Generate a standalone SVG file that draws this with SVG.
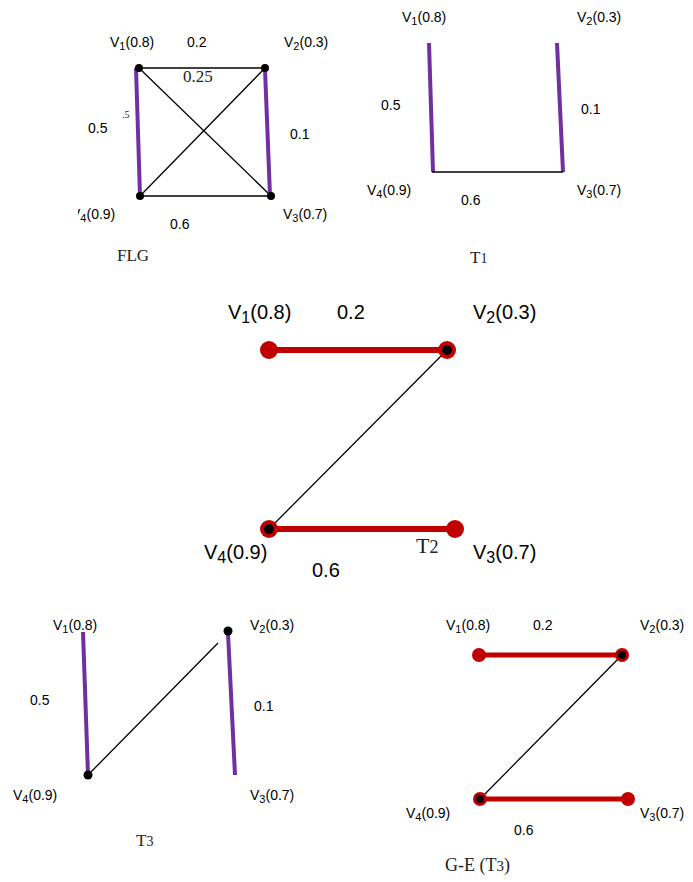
<svg xmlns="http://www.w3.org/2000/svg" width="693" height="882" viewBox="0 0 693 882">
<style>
.s{font-family:"Liberation Sans",Arial,sans-serif;font-size:14px;fill:#000}
.b{font-size:20px}
.r{font-family:"Liberation Serif","Times New Roman",serif;fill:#222}
.p{stroke:#7030a0;stroke-width:4;fill:none}
.k{stroke:#000;stroke-width:1.3;fill:none}
.red{stroke:#c00000;fill:none}
.dot{fill:#000}
.rd{fill:#c00000}
</style>
<defs>
<clipPath id="cv4"><rect x="78" y="200" width="60" height="30"/></clipPath>
</defs>
<rect width="693" height="882" fill="#fff"/>

<g id="connectors">
  <!-- FLG -->
  <line class="k" x1="139" y1="68" x2="265" y2="68"/>
  <line class="k" x1="140" y1="196" x2="271" y2="196"/>
  <line class="k" x1="139" y1="68" x2="271" y2="196"/>
  <line class="k" x1="265" y1="68" x2="140" y2="196"/>
  <line class="p" x1="136" y1="68" x2="140" y2="196"/>
  <line class="p" x1="265" y1="69" x2="270" y2="196"/>
  <!-- T1 -->
  <line class="p" x1="429" y1="43" x2="433" y2="172"/>
  <line class="p" x1="557" y1="43" x2="563" y2="172"/>
  <line class="k" x1="432" y1="172" x2="563" y2="172"/>
  <!-- T2 -->
  <line class="red" stroke-width="6" x1="269" y1="350" x2="447" y2="350"/>
  <line class="red" stroke-width="6" x1="269" y1="529" x2="455" y2="529"/>
  <line class="k" stroke-width="1.6" x1="447" y1="350" x2="269" y2="529"/>
  <!-- T3 -->
  <line class="p" x1="83" y1="632" x2="88" y2="775"/>
  <line class="p" x1="228" y1="633" x2="235" y2="775"/>
  <line class="k" stroke-width="1.6" x1="89" y1="774" x2="218" y2="643"/>
  <!-- G-E -->
  <line class="red" stroke-width="5" x1="479" y1="655" x2="622" y2="655"/>
  <line class="red" stroke-width="5" x1="480" y1="799" x2="628" y2="799"/>
  <line class="k" x1="622" y1="655" x2="480" y2="799"/>
</g>

<!-- FLG panel -->
<g id="flg-v1">
  <circle class="dot" cx="139" cy="68" r="4"/>
  <text class="s" x="110" y="47">V<tspan font-size="11" dy="3">1</tspan><tspan dy="-3">(0.8)</tspan></text>
</g>
<g id="flg-v2">
  <circle class="dot" cx="265" cy="68" r="4"/>
  <text class="s" x="284" y="47">V<tspan font-size="11" dy="3">2</tspan><tspan dy="-3">(0.3)</tspan></text>
</g>
<g id="flg-v3">
  <circle class="dot" cx="271" cy="196" r="4"/>
  <text class="s" x="283" y="219">V<tspan font-size="11" dy="3">3</tspan><tspan dy="-3">(0.7)</tspan></text>
</g>
<g id="flg-v4">
  <circle class="dot" cx="140" cy="196" r="4"/>
  <text class="s" x="71" y="219" clip-path="url(#cv4)">V<tspan font-size="11" dy="3">4</tspan><tspan dy="-3">(0.9)</tspan></text>
</g>
<g id="flg-labels">
  <text class="s" x="187" y="47">0.2</text>
  <text class="r" x="183" y="82" font-size="17" fill="#404040">0.25</text>
  <text class="r" x="122" y="118" font-size="10" fill="#555">.5</text>
  <text class="s" x="88" y="133">0.5</text>
  <text class="s" x="290" y="139">0.1</text>
  <text class="s" x="170" y="229">0.6</text>
  <text class="r" x="117" y="261" font-size="17">FLG</text>
</g>

<!-- T1 panel -->
<g id="t1-v1"><text class="s" x="402" y="22">V<tspan font-size="11" dy="3">1</tspan><tspan dy="-3">(0.8)</tspan></text></g>
<g id="t1-v2"><text class="s" x="577" y="22">V<tspan font-size="11" dy="3">2</tspan><tspan dy="-3">(0.3)</tspan></text></g>
<g id="t1-v3"><text class="s" x="577" y="195">V<tspan font-size="11" dy="3">3</tspan><tspan dy="-3">(0.7)</tspan></text></g>
<g id="t1-v4"><text class="s" x="367" y="195">V<tspan font-size="11" dy="3">4</tspan><tspan dy="-3">(0.9)</tspan></text></g>
<g id="t1-labels">
  <text class="s" x="381" y="110">0.5</text>
  <text class="s" x="581" y="114">0.1</text>
  <text class="s" x="461" y="205">0.6</text>
  <text class="r" x="470" y="263" font-size="17">T<tspan font-size="14">1</tspan></text>
</g>

<!-- T2 panel -->
<g id="t2-v1">
  <circle class="rd" cx="269" cy="350" r="9"/>
  <text class="s b" x="228" y="319">V<tspan font-size="16" dy="4">1</tspan><tspan dy="-4">(0.8)</tspan></text>
</g>
<g id="t2-v2">
  <circle class="rd" cx="447" cy="350" r="9"/>
  <circle class="dot" cx="447" cy="350" r="5"/>
  <text class="s b" x="473" y="319">V<tspan font-size="16" dy="4">2</tspan><tspan dy="-4">(0.3)</tspan></text>
</g>
<g id="t2-v3">
  <circle class="rd" cx="455" cy="529" r="9"/>
  <text class="s b" x="473" y="559">V<tspan font-size="16" dy="4">3</tspan><tspan dy="-4">(0.7)</tspan></text>
</g>
<g id="t2-v4">
  <circle class="rd" cx="269" cy="529" r="9"/>
  <circle class="dot" cx="269" cy="529" r="5"/>
  <text class="s b" x="204" y="559">V<tspan font-size="16" dy="4">4</tspan><tspan dy="-4">(0.9)</tspan></text>
</g>
<g id="t2-labels">
  <text class="s b" x="337" y="319">0.2</text>
  <text class="s b" x="312" y="577">0.6</text>
  <text class="r" x="416" y="553" font-size="22">T<tspan font-size="18">2</tspan></text>
</g>

<!-- T3 panel -->
<g id="t3-v1"><text class="s" x="53" y="630">V<tspan font-size="11" dy="3">1</tspan><tspan dy="-3">(0.8)</tspan></text></g>
<g id="t3-v2">
  <circle class="dot" cx="228" cy="631" r="4.5"/>
  <text class="s" x="250" y="630">V<tspan font-size="11" dy="3">2</tspan><tspan dy="-3">(0.3)</tspan></text>
</g>
<g id="t3-v3"><text class="s" x="250" y="800">V<tspan font-size="11" dy="3">3</tspan><tspan dy="-3">(0.7)</tspan></text></g>
<g id="t3-v4">
  <circle class="dot" cx="88" cy="775" r="4.5"/>
  <text class="s" x="13" y="800">V<tspan font-size="11" dy="3">4</tspan><tspan dy="-3">(0.9)</tspan></text>
</g>
<g id="t3-labels">
  <text class="s" x="30" y="705">0.5</text>
  <text class="s" x="254" y="711">0.1</text>
  <text class="r" x="136" y="846" font-size="17">T<tspan font-size="14">3</tspan></text>
</g>

<!-- G-E panel -->
<g id="ge-v1">
  <circle class="rd" cx="479" cy="655" r="7"/>
  <text class="s" x="446" y="630">V<tspan font-size="11" dy="3">1</tspan><tspan dy="-3">(0.8)</tspan></text>
</g>
<g id="ge-v2">
  <circle class="rd" cx="622" cy="655" r="7"/>
  <circle class="dot" cx="622" cy="655" r="4"/>
  <text class="s" x="640" y="630">V<tspan font-size="11" dy="3">2</tspan><tspan dy="-3">(0.3)</tspan></text>
</g>
<g id="ge-v3">
  <circle class="rd" cx="628" cy="799" r="7"/>
  <text class="s" x="640" y="818">V<tspan font-size="11" dy="3">3</tspan><tspan dy="-3">(0.7)</tspan></text>
</g>
<g id="ge-v4">
  <circle class="rd" cx="480" cy="799" r="7"/>
  <circle class="dot" cx="480" cy="799" r="4"/>
  <text class="s" x="406" y="818">V<tspan font-size="11" dy="3">4</tspan><tspan dy="-3">(0.9)</tspan></text>
</g>
<g id="ge-labels">
  <text class="s" x="533" y="630">0.2</text>
  <text class="s" x="514" y="835">0.6</text>
  <text class="r" x="445" y="871" font-size="18">G-E (T<tspan font-size="15">3</tspan>)</text>
</g>
</svg>
